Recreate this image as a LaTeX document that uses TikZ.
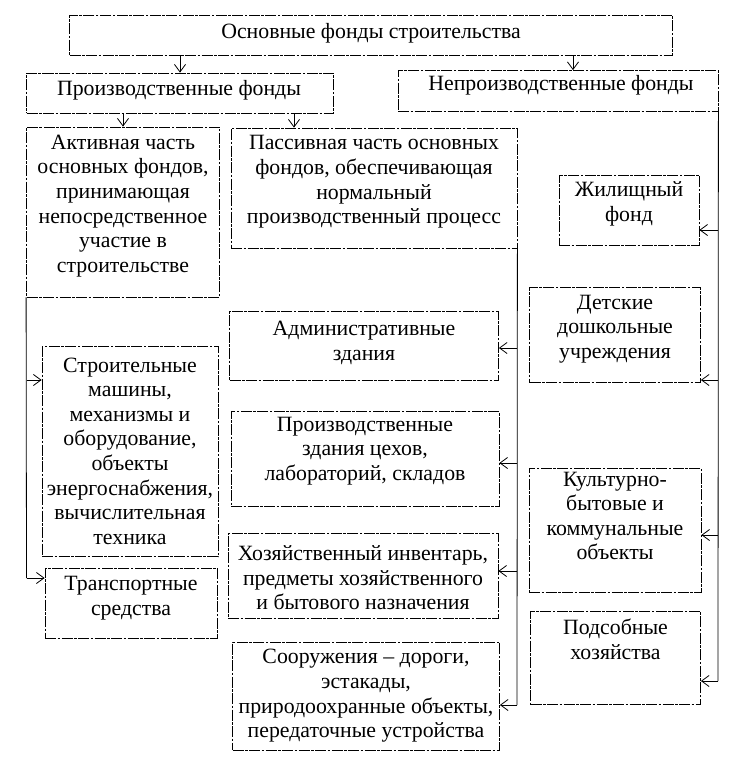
\documentclass[tikz,border=0pt]{standalone}
\usepackage{fontspec}
\setmainfont{Liberation Serif}
\usetikzlibrary{arrows.meta}
\begin{document}
\begin{tikzpicture}[x=1pt,y=-1pt,
  bx/.style={draw, line width=0.8pt, dash pattern=on 11pt off 1.5pt on 2.5pt off 1.5pt, inner sep=0pt},
  tx/.style={align=center, font=\fontsize{21.8}{24.6}\selectfont, inner sep=0pt},
  ln/.style={line width=0.8pt},
  arr/.style={ln, -{Straight Barb[length=7.5pt,width=11pt]}}]
\useasboundingbox (0,0) rectangle (741,769);
% boxes
\node[bx, minimum width=603pt, minimum height=40pt] (top) at (371,35) {};
\node[tx] (top-t) at (371,33) {Основные фонды строительства};
\node[bx, minimum width=307pt, minimum height=40pt] (proizv) at (180,93) {};
\node[tx] (proizv-t) at (179,90) {Производственные фонды};
\node[bx, minimum width=320pt, minimum height=41pt] (neproizv) at (558,91) {};
\node[tx] (neproizv-t) at (561,85) {Непроизводственные фонды};
\node[bx, minimum width=193pt, minimum height=170pt] (akt) at (123,212) {};
\node[tx] (akt-t) at (123,206) {Активная часть\\основных фондов,\\принимающая\\непосредственное\\участие в\\строительстве};
\node[bx, minimum width=286pt, minimum height=120pt] (pas) at (374,188) {};
\node[tx] (pas-t) at (374,182) {Пассивная часть основных\\фондов, обеспечивающая\\нормальный\\производственный процесс};
\node[bx, minimum width=140pt, minimum height=70pt] (zhil) at (629,210) {};
\node[tx] (zhil-t) at (629,204) {Жилищный\\фонд};
\node[bx, minimum width=171pt, minimum height=95pt] (det) at (615,335) {};
\node[tx] (det-t) at (615,329) {Детские\\дошкольные\\учреждения};
\node[bx, minimum width=172pt, minimum height=124pt] (kult) at (615,530) {};
\node[tx] (kult-t) at (615,516) {Культурно-\\бытовые и\\коммунальные\\объекты};
\node[bx, minimum width=170pt, minimum height=93pt] (pods) at (615.5,658) {};
\node[tx] (pods-t) at (615.5,639) {Подсобные\\хозяйства};
\node[bx, minimum width=269pt, minimum height=69pt] (adm) at (364,346) {};
\node[tx] (adm-t) at (364,343) {Административные\\здания};
\node[bx, minimum width=268pt, minimum height=95pt] (przd) at (365,459) {};
\node[tx] (przd-t) at (365,451) {Производственные\\здания цехов,\\лабораторий, складов};
\node[bx, minimum width=270pt, minimum height=85pt] (hoz) at (363,576) {};
\node[tx] (hoz-t) at (363,578) {Хозяйственный инвентарь,\\предметы хозяйственного\\и бытового назначения};
\node[bx, minimum width=267pt, minimum height=108pt] (soor) at (366,696) {};
\node[tx] (soor-t) at (366,696) {Сооружения – дороги,\\эстакады,\\природоохранные объекты,\\передаточные устройства};
\node[bx, minimum width=176pt, minimum height=210pt] (stroi) at (130,451.5) {};
\node[tx] (stroi-t) at (130,451) {Строительные\\машины,\\механизмы и\\оборудование,\\объекты\\энергоснабжения,\\вычислительная\\техника};
\node[bx, minimum width=172pt, minimum height=70pt] (trans) at (131,603) {};
\node[tx] (trans-t) at (131,598) {Транспортные\\средства};
% top-level arrows
\draw[arr] (proizv.north |- top.south) -- (proizv.north);
\draw[arr] ([xshift=15pt]neproizv.north |- top.south) -- ([xshift=15pt]neproizv.north);
\draw[arr] (akt.north |- proizv.south) -- (akt.north);
\draw[arr] ([xshift=-80pt]pas.north |- proizv.south) -- ([xshift=-80pt]pas.north);
% left trunk
\coordinate (L1) at (26.5,380);
\coordinate (L2) at (26.5,578);
\draw[ln] (akt.south west) -- (L2);
\draw[arr] (L1) -- (L1 -| stroi.west);
\draw[arr] (L2) -- (L2 -| trans.west);
% middle trunk
\coordinate (M1) at (517,348);
\coordinate (M2) at (517,463);
\coordinate (M3) at (517,571);
\coordinate (M4) at (517,705);
\draw[ln] (pas.south east) -- (M4);
\draw[arr] (M1) -- (M1 -| adm.east);
\draw[arr] (M2) -- (M2 -| przd.east);
\draw[arr] (M3) -- (M3 -| hoz.east);
\draw[arr] (M4) -- (M4 -| soor.east);
% right trunk
\coordinate (R1) at (718,230);
\coordinate (R2) at (718,380);
\coordinate (R3) at (718,535);
\coordinate (R4) at (718,681);
\draw[ln] (neproizv.south east) -- (R4);
\draw[arr] (R1) -- (R1 -| zhil.east);
\draw[arr] (R2) -- (R2 -| det.east);
\draw[arr] (R3) -- (R3 -| kult.east);
\draw[arr] (R4) -- (R4 -| pods.east);
\end{tikzpicture}
\end{document}
